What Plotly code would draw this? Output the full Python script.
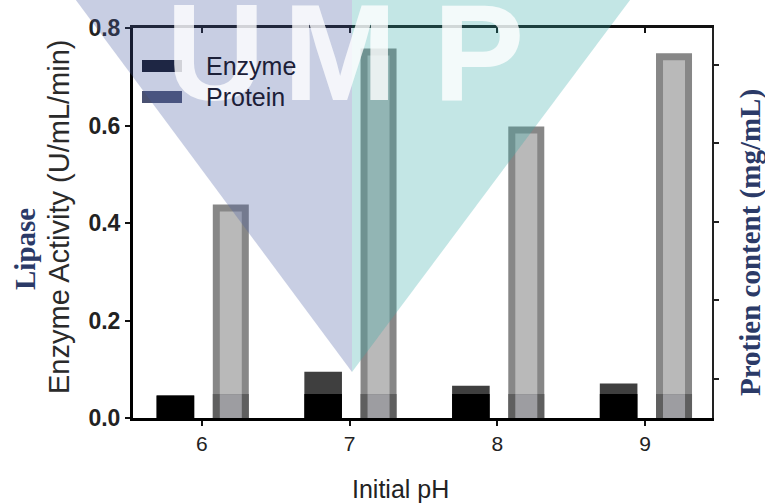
import plotly.graph_objects as go

# ---- data -------------------------------------------------------------
ph_values = [6, 7, 8, 9]
enzyme_activity = [0.046, 0.095, 0.066, 0.071]      # U/mL/min
enzyme_base = [0.046, 0.049, 0.049, 0.049]          # dark lower segment of each enzyme bar
protein_content = [0.431, 0.751, 0.591, 0.741]      # bar heights on the left scale
protein_base = [0.049, 0.049, 0.049, 0.049]         # dark lower segment of each protein bar
left_ticks = [0.0, 0.2, 0.4, 0.6, 0.8]
right_ticks = [0.5, 1.5, 2.5, 3.5, 4.5]

# ---- page geometry (pixels) -------------------------------------------
W, H = 765, 504
L, R, T, B = 133, 712, 28, 418


def px(x):
    return (x - L) / (R - L)


def py(y):
    return (B - y) / (B - T)


SANS = "Liberation Sans, Arial, sans-serif"
SERIF = "Liberation Serif, Times New Roman, serif"

fig = go.Figure()

# enzyme bars: dark grey full height with a black lower segment
fig.add_trace(go.Bar(x=ph_values, y=enzyme_activity, width=0.2546, offset=-0.3063,
                     marker=dict(color="#3f3f3f", line=dict(width=0)), name="Enzyme"))
fig.add_trace(go.Bar(x=ph_values, y=enzyme_base, width=0.2546, offset=-0.3063,
                     marker=dict(color="#000000", line=dict(width=0)), showlegend=False))

# protein bars: light grey fill with a thick grey outline
fig.add_trace(go.Bar(x=ph_values, y=protein_content, width=0.1963, offset=0.0978,
                     marker=dict(color="#b9b9b9", line=dict(color="#878787", width=7)),
                     name="Protein"))
fig.add_trace(go.Bar(x=ph_values, y=protein_base, width=0.2437, offset=0.0742,
                     marker=dict(color="#5f5f5f", line=dict(width=0)), showlegend=False))
fig.add_trace(go.Bar(x=ph_values, y=protein_base, width=0.149, offset=0.1215,
                     marker=dict(color="#9d9da1", line=dict(width=0)), showlegend=False))

# holder trace for the top / right axes
fig.add_trace(go.Scatter(x=[None], y=[None], xaxis="x2", yaxis="y2",
                         showlegend=False, hoverinfo="skip"))

xr = [5.534, 9.453]
fig.update_layout(
    width=W, height=H,
    margin=dict(l=L, r=W - R, t=T, b=H - B, pad=0),
    paper_bgcolor="white", plot_bgcolor="white",
    barmode="overlay", showlegend=False,
    xaxis=dict(range=xr, tickvals=ph_values, ticks="outside", ticklen=5, tickwidth=2,
               tickcolor="#111", showline=True, linewidth=3, linecolor="#000",
               showgrid=False, zeroline=False,
               tickfont=dict(family=SANS, size=21, color="#222")),
    xaxis2=dict(range=xr, overlaying="x", side="top", anchor="y", tickvals=ph_values,
                ticks="inside", ticklen=5, tickwidth=2, tickcolor="#111",
                showline=True, linewidth=3, linecolor="#111",
                showticklabels=False, showgrid=False, zeroline=False),
    yaxis=dict(range=[0, 0.8], tickvals=left_ticks, tickformat=".1f", ticks="outside",
               ticklen=5, tickwidth=2, tickcolor="#111", showline=True, linewidth=3,
               linecolor="#000", showgrid=False, zeroline=False,
               tickfont=dict(family=SANS, size=23, color="#222", weight="bold")),
    yaxis2=dict(range=[0, 4.97], overlaying="y", side="right", anchor="x2",
                tickvals=right_ticks, ticks="outside", ticklen=5, tickwidth=2,
                tickcolor="#222", showline=True, linewidth=2, linecolor="#222",
                showticklabels=False, showgrid=False, zeroline=False),
)

# legend drawn by hand: wide swatches + labels
shapes = [
    dict(type="rect", xref="paper", yref="paper", layer="above",
         x0=px(142), x1=px(182), y0=py(72), y1=py(60),
         fillcolor="#0c0f1c", line=dict(width=0)),
    dict(type="rect", xref="paper", yref="paper", layer="above",
         x0=px(142), x1=px(182), y0=py(103), y1=py(91),
         fillcolor="#4a5172", line=dict(width=0)),
]

# watermark triangle: lavender left half, teal right half
apex = (352, 372)
lav = "M{},{} L{},{} L{},{} Z".format(px(61), py(-20), px(352), py(-20), px(apex[0]), py(apex[1]))
teal = "M{},{} L{},{} L{},{} Z".format(px(352), py(-20), px(645), py(-20), px(apex[0]), py(apex[1]))
shapes.append(dict(type="path", path=lav, xref="paper", yref="paper", layer="above",
                   fillcolor="rgb(72,92,162)", opacity=0.3, line=dict(width=0)))
shapes.append(dict(type="path", path=teal, xref="paper", yref="paper", layer="above",
                   fillcolor="rgb(55,172,168)", opacity=0.3, line=dict(width=0)))
fig.update_layout(shapes=shapes)

ann = []
# watermark letters
for letter, cx in [("U", 215), ("M", 340), ("P", 478)]:
    ann.append(dict(text=letter, x=px(cx), y=py(131), xref="paper", yref="paper",
                    xanchor="center", yanchor="bottom", showarrow=False,
                    font=dict(family=SANS, size=137, color="rgba(255,255,255,0.8)",
                              weight="bold")))

ann += [
    dict(text="Enzyme", x=px(204), y=py(66), xanchor="left", yanchor="middle",
         font=dict(family=SANS, size=25, color="#1c2038")),
    dict(text="Protein", x=px(204), y=py(97), xanchor="left", yanchor="middle",
         font=dict(family=SANS, size=25, color="#1c2038")),
    dict(text="Initial pH", x=px(400), y=py(489), xanchor="center", yanchor="middle",
         font=dict(family=SANS, size=25, color="#222")),
    dict(text="Enzyme Activity (U/mL/min)", x=px(59), y=py(217), textangle=-90,
         xanchor="center", yanchor="middle",
         font=dict(family=SANS, size=29, color="#2a2a2a")),
    dict(text="Lipase", x=px(25), y=py(249), textangle=-90,
         xanchor="center", yanchor="middle",
         font=dict(family=SERIF, size=29, color="#2b3a67", weight="bold")),
    dict(text="Protien content (mg/mL)", x=px(750), y=py(243), textangle=-90,
         xanchor="center", yanchor="middle",
         font=dict(family=SERIF, size=29, color="#2b3a67", weight="bold")),
]
for a in ann:
    a.setdefault("xref", "paper")
    a.setdefault("yref", "paper")
    a.setdefault("showarrow", False)
fig.update_layout(annotations=ann)

fig.write_html("out.html")
